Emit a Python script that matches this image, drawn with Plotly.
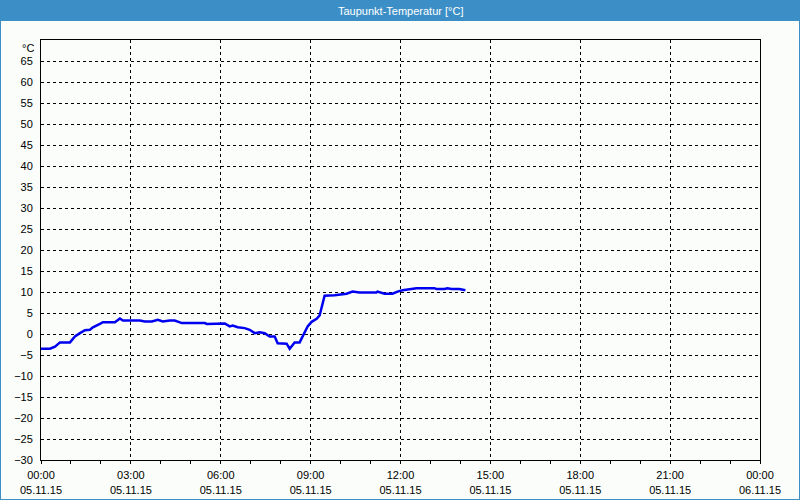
import plotly.graph_objects as go

# ---- data ----
times = ["00:00", "00:18", "00:28", "00:38", "00:58", "01:08", "01:18", "01:28", "01:38", "01:44",
         "01:58", "02:04", "02:28", "02:38", "02:44", "03:18", "03:28", "03:42", "03:54", "04:04",
         "04:18", "04:28", "04:42", "05:28", "05:32", "05:58", "06:08", "06:18", "06:24", "06:34",
         "06:48", "06:58", "07:08", "07:18", "07:28", "07:38", "07:48", "07:54", "08:12", "08:18",
         "08:28", "08:38", "08:44", "08:54", "09:02", "09:12", "09:18", "09:24", "09:28", "09:48",
         "10:12", "10:24", "10:38", "11:12", "11:14", "11:28", "11:44", "11:54", "12:04", "12:32",
         "13:08", "13:12", "13:28", "13:34", "13:42", "13:58", "14:10"]
dewpoint = [-3.5, -3.5, -3.0, -2.0, -2.0, -0.6, 0.2, 0.9, 1.0, 1.6,
            2.4, 2.8, 2.8, 3.7, 3.2, 3.2, 3.0, 3.0, 3.4, 3.0,
            3.2, 3.2, 2.6, 2.6, 2.4, 2.4, 2.5, 1.8, 2.0, 1.6,
            1.4, 1.0, 0.2, 0.4, 0.2, -0.6, -0.6, -2.2, -2.3, -3.5,
            -2.0, -2.0, -0.6, 1.8, 2.9, 3.6, 4.4, 7.4, 9.1, 9.2,
            9.6, 10.1, 9.9, 9.9, 10.1, 9.6, 9.6, 10.1, 10.4, 10.9,
            10.9, 10.7, 10.7, 10.9, 10.7, 10.7, 10.4]
x_tick_vals = ["2015-11-05 00:00", "2015-11-05 03:00", "2015-11-05 06:00", "2015-11-05 09:00",
               "2015-11-05 12:00", "2015-11-05 15:00", "2015-11-05 18:00", "2015-11-05 21:00",
               "2015-11-06 00:00"]
x_tick_text = ["00:00<br>05.11.15", "03:00<br>05.11.15", "06:00<br>05.11.15", "09:00<br>05.11.15",
               "12:00<br>05.11.15", "15:00<br>05.11.15", "18:00<br>05.11.15", "21:00<br>05.11.15",
               "00:00<br>06.11.15"]
y_tick_vals = list(range(-30, 70, 5))
title_text = "Taupunkt-Temperatur [°C]"
unit_text = "°C"

xs = ["2015-11-05 " + t for t in times]

FONT = "Liberation Sans"
BLUE = "#3C8FC6"
L, R, T, B = 41, 40, 40, 40
W, H = 800, 500
pw, ph = W - L - R, H - T - B

def px(x):
    return (x - L) / pw

def py(y):
    return (H - B - y) / ph

fig = go.Figure()
fig.add_trace(go.Scatter(x=xs, y=dewpoint, mode="lines",
                         line=dict(color="#0000F0", width=2.5), hoverinfo="skip"))

fig.update_layout(
    width=W, height=H,
    margin=dict(l=L, r=R, t=T, b=B),
    paper_bgcolor="#FAFDFA", plot_bgcolor="#FAFDFA",
    showlegend=False,
    font=dict(family=FONT, size=11, color="black"),
    xaxis=dict(
        type="date", automargin=False,
        range=["2015-11-05 00:00", "2015-11-06 00:00"],
        tickmode="array", tickvals=x_tick_vals, ticktext=x_tick_text,
        ticks="outside", ticklen=3, tickcolor="black", tickwidth=1,
        ticklabelstandoff=2,
        showgrid=True, gridcolor="black", griddash="3px,3px", gridwidth=1,
        showline=True, linecolor="black", linewidth=1, mirror=True,
        zeroline=False,
        minor=dict(dtick=3600000, ticks="outside", ticklen=3, tickcolor="black", showgrid=False),
        tickfont=dict(family=FONT, size=11, color="black"),
    ),
    yaxis=dict(
        range=[-30, 70], automargin=False,
        tickmode="array", tickvals=y_tick_vals,
        ticks="", ticklabelstandoff=5,
        showgrid=True, gridcolor="black", griddash="3px,3px", gridwidth=1,
        showline=True, linecolor="black", linewidth=1, mirror=True,
        zeroline=False,
        tickfont=dict(family=FONT, size=11, color="black"),
    ),
    shapes=[
        dict(type="rect", xref="paper", yref="paper",
             x0=px(0), x1=px(W), y0=py(21), y1=py(0),
             fillcolor=BLUE, line=dict(width=0), layer="above"),
        dict(type="rect", xref="paper", yref="paper",
             x0=px(0), x1=px(W), y0=py(H), y1=py(0),
             fillcolor="rgba(0,0,0,0)", line=dict(color=BLUE, width=2), layer="above"),
    ],
    annotations=[
        dict(text=title_text, xref="paper", yref="paper", x=px(W / 2), y=py(10.5),
             xanchor="center", yanchor="middle", showarrow=False,
             font=dict(family=FONT, size=11, color="white")),
        dict(text=unit_text, xref="paper", yref="paper", x=0, y=1, xshift=-5,
             xanchor="right", yanchor="top", showarrow=False,
             font=dict(family=FONT, size=11, color="black")),
    ],
)
fig.write_html("out.html")
